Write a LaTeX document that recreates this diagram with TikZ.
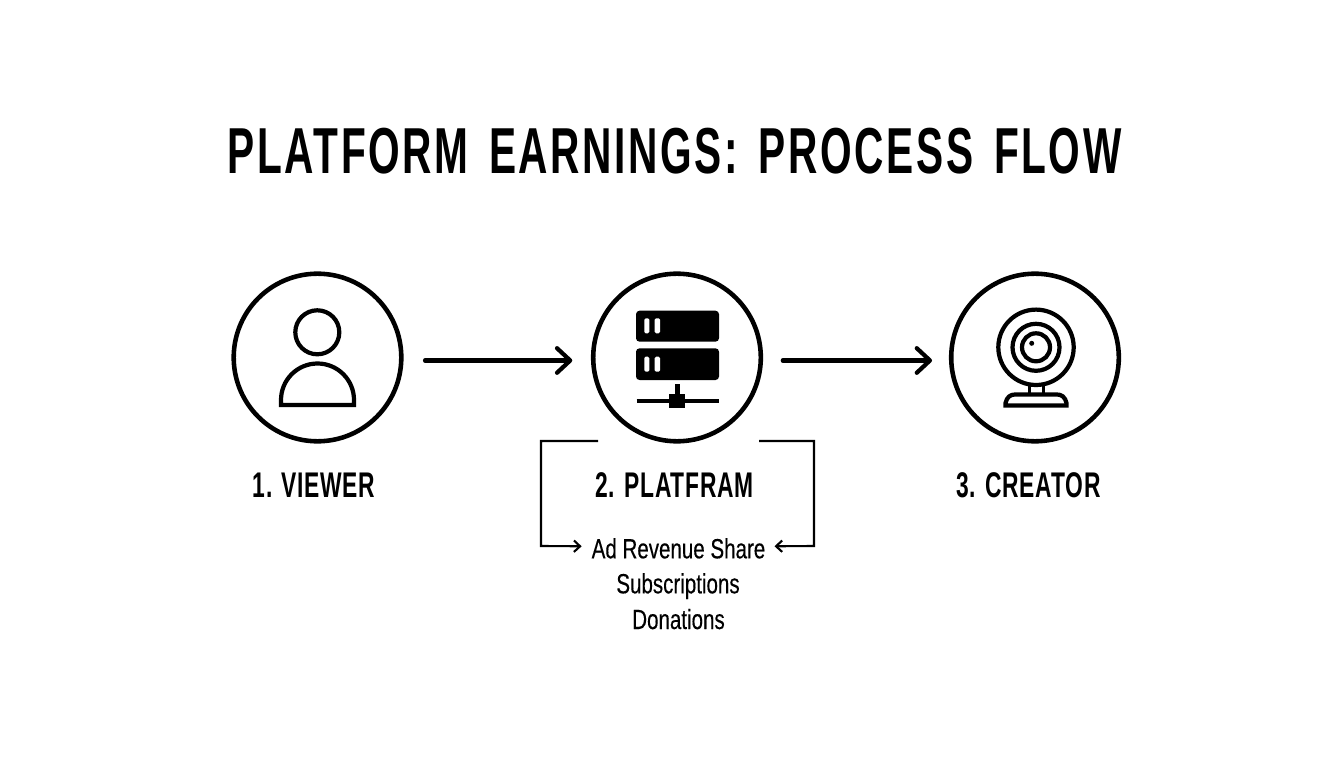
\documentclass[tikz,border=0pt]{standalone}
\usepackage{fontspec}
\usepackage{tikz}
\usetikzlibrary{arrows.meta}
\newfontfamily\titlefont[FakeStretch=0.625,LetterSpace=4,WordSpace=1.5]{Liberation Sans}
\newfontfamily\labelfont[FakeStretch=0.64,LetterSpace=2]{Liberation Sans}
\newfontfamily\subfont[FakeStretch=0.74,FakeBold=0.3]{Liberation Sans}

\tikzset{
  bigcircle/.style={circle,draw,line width=2.6pt,minimum size=95.4pt,inner sep=0pt},
  stage/.style={font=\labelfont\bfseries\fontsize{20.3}{24}\selectfont},
  income/.style={anchor=base,font=\subfont\fontsize{15.8}{19}\selectfont},
  mainarrow/.style={line width=2.4pt,line cap=round,-{Straight Barb[length=7.5pt,width=14pt,line width=2.4pt,round]}},
  sidearrow/.style={line width=1.2pt,-{Straight Barb[length=3.5pt,width=6.5pt,line width=1.2pt]}},
  icon/.style={line width=2.4pt}
}

\begin{document}
\begin{tikzpicture}[x=0.02cm,y=0.02cm]
  \useasboundingbox (0,0) rectangle (1344,768);
  \node (title) at (674.5,617) {\titlefont\bfseries\fontsize{37}{44}\selectfont PLATFORM EARNINGS: PROCESS FLOW};

  \node[bigcircle] (viewer) at (317.5,410.5) {};
  \node[bigcircle] (platform) at (677,410.5) {};
  \node[bigcircle] (creator) at (1035,410.5) {};

  \node[stage] (viewerlabel) at (314,283) {1. VIEWER};
  \node[stage] (platformlabel) at (674.5,283) {2. PLATFRAM};
  \node[stage] (creatorlabel) at (1028.5,283) {3. CREATOR};

  \node[income] (revenue) at (678.5,209.7) {Ad Revenue Share};
  \node[income] (subs) at (678,174.7) {Subscriptions};
  \node[income] (donations) at (678.5,139) {Donations};

  % arrows between the circles
  \draw[mainarrow] ([xshift=12.2pt,yshift=-1.7pt]viewer.east) -- ([xshift=-10.6pt,yshift=-1.7pt]platform.west);
  \draw[mainarrow] ([xshift=11.2pt,yshift=-1.7pt]platform.east) -- ([xshift=-9.6pt,yshift=-1.7pt]creator.west);

  % brackets to the income list
  \coordinate (leftstart) at (598,327);
  \coordinate (rightstart) at (759,327);
  \draw[sidearrow] (leftstart) -- (541,327) -- (541,222) -- ([xshift=-2.2pt,yshift=1.2pt]revenue.west);
  \draw[sidearrow] (rightstart) -- (814,327) -- (814,222) -- ([xshift=1.7pt,yshift=1.2pt]revenue.east);

  % person
  \draw[icon] (317.3,435.7) circle (22);
  \draw[icon] (281,363) -- (281,368) arc[start angle=180,end angle=0,radius=36.5] -- (354,363) -- cycle;

  % server
  \fill[rounded corners=2pt] (636,426.3) rectangle (719,457.3);
  \fill[rounded corners=2pt] (636,388) rectangle (719,419.7);
  \foreach \y in {434.7,396.3} {
    \fill[white,rounded corners=.8pt] (644.3,\y) rectangle ++(5,15);
    \fill[white,rounded corners=.8pt] (654.7,\y) rectangle ++(5.3,15);
  }
  \draw[line width=2.8pt] (636.7,367) -- (718.7,367);
  \fill (669.3,359.7) rectangle (685.3,373.7);
  \fill (675,373.7) rectangle (680.3,384);

  % webcam
  \draw[icon] (1036,420.7) circle (37.7);
  \draw[icon] (1036,420.7) circle (23.5);
  \draw[icon] (1036,420.7) circle (14);
  \fill (1031.7,424.7) circle (2.5);
  \draw[line width=2pt] (1029.5,382) -- (1029.5,373) (1043.5,382) -- (1043.5,373);
  \draw[icon] (1005.5,362.4) -- (1005.5,365) .. controls (1007,371) and (1010,373.6) .. (1016,373.6) -- (1056,373.6) .. controls (1062,373.6) and (1065,371) .. (1066.5,365) -- (1066.5,362.4) -- cycle;
\end{tikzpicture}
\end{document}
